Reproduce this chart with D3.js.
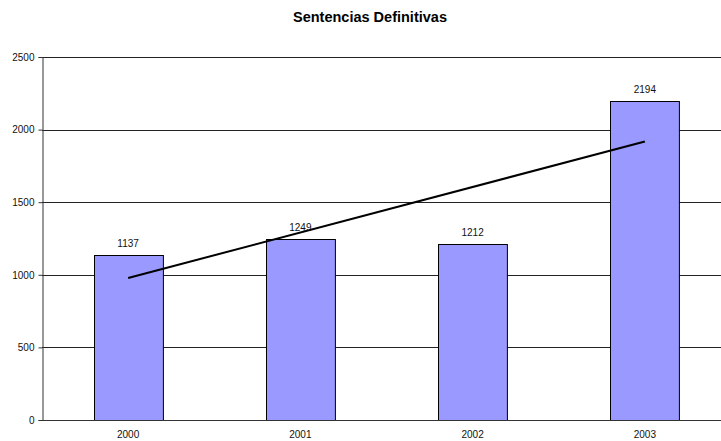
<!DOCTYPE html>
<html>
<head>
<meta charset="utf-8">
<script src="https://cdn.jsdelivr.net/npm/d3@7"></script>
<style>
  html, body { margin: 0; padding: 0; background: #fff; }
  svg { display: block; font-family: Arial, "Liberation Sans", sans-serif; }
</style>
</head>
<body>
<svg id="chart" width="721" height="441"></svg>
<script>
const years = ["2000", "2001", "2002", "2003"];
const sentencias = [1137, 1249, 1212, 2194];
const yTicks = [0, 500, 1000, 1500, 2000, 2500];
const chartTitle = "Sentencias Definitivas";

const svg = d3.select("#chart");
const margin = { left: 42, top: 57, right: -10, bottom: 21 };
const W = 721, H = 441;

const x = d3.scaleBand()
  .domain(years)
  .range([margin.left, W - margin.right])
  .paddingInner(0.6)
  .paddingOuter(0.3);

const y = d3.scaleLinear()
  .domain([0, 2500])
  .range([H - margin.bottom, margin.top]);

// title
svg.append("text")
  .attr("x", 370).attr("y", 22)
  .attr("text-anchor", "middle")
  .attr("font-size", 14.5).attr("font-weight", "bold")
  .text(chartTitle);

// horizontal gridlines
svg.append("g")
  .selectAll("line")
  .data(yTicks.filter(d => d > 0))
  .join("line")
  .attr("x1", margin.left).attr("x2", W)
  .attr("y1", d => Math.round(y(d)) + 0.5).attr("y2", d => Math.round(y(d)) + 0.5)
  .attr("stroke", "#222").attr("stroke-width", 1);

// bars
svg.append("g")
  .selectAll("rect")
  .data(sentencias)
  .join("rect")
  .attr("x", (d, i) => Math.round(x(years[i])) + 0.5)
  .attr("y", d => Math.round(y(d)) + 0.5)
  .attr("width", x.bandwidth())
  .attr("height", d => Math.round(y(0)) - Math.round(y(d)))
  .attr("fill", "#9999FF")
  .attr("stroke", "#000").attr("stroke-width", 1);

// value labels
svg.append("g")
  .selectAll("text")
  .data(sentencias)
  .join("text")
  .attr("x", (d, i) => x(years[i]) + x.bandwidth() / 2)
  .attr("y", d => y(d) - 8)
  .attr("text-anchor", "middle")
  .attr("font-size", 10).attr("fill", "#111")
  .text(d => d);

// linear trend line through the yearly totals
const n = sentencias.length;
const xs = d3.range(n);
const mx = d3.mean(xs), my = d3.mean(sentencias);
const slope = d3.sum(xs, i => (i - mx) * (sentencias[i] - my)) / d3.sum(xs, i => (i - mx) ** 2);
const intercept = my - slope * mx;
const cx = i => x(years[i]) + x.bandwidth() / 2;
svg.append("line")
  .attr("x1", cx(0)).attr("y1", y(intercept))
  .attr("x2", cx(n - 1)).attr("y2", y(intercept + slope * (n - 1)))
  .attr("stroke", "#000").attr("stroke-width", 2);

// y axis
const yAxis = svg.append("g")
  .attr("transform", `translate(${margin.left + 0.5},0)`)
  .call(d3.axisLeft(y).tickValues(yTicks).tickSize(4).tickPadding(4).tickFormat(d3.format("d")));
yAxis.select(".domain").attr("stroke", "#333");
yAxis.selectAll(".tick line").attr("stroke", "#333");
yAxis.selectAll("text").attr("font-size", 10).attr("fill", "#111").attr("font-family", "Arial, 'Liberation Sans', sans-serif");

// x axis
const xAxis = svg.append("g")
  .attr("transform", `translate(0,${Math.round(y(0)) + 0.5})`)
  .call(d3.axisBottom(x).tickSize(0).tickPadding(10));
xAxis.select(".domain").attr("stroke", "#333").attr("d", `M${margin.left},0H${W}`);
xAxis.selectAll("text").attr("font-size", 10).attr("fill", "#111").attr("font-family", "Arial, 'Liberation Sans', sans-serif");
</script>
</body>
</html>
